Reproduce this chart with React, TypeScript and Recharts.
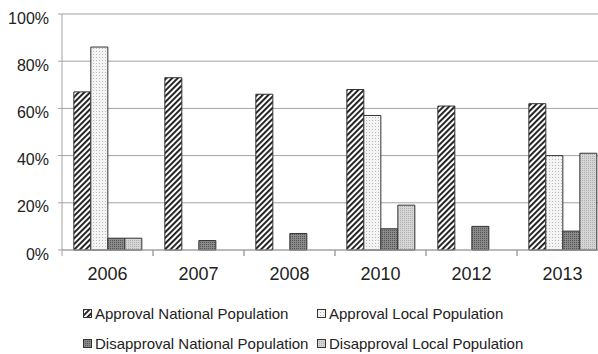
import React from "react";
import { BarChart, Bar, XAxis, YAxis, CartesianGrid, Legend } from "recharts";

const years = ["2006", "2007", "2008", "2010", "2012", "2013"];
const approvalNational = [67, 73, 66, 68, 61, 62];
const approvalLocal: (number | null)[] = [86, null, null, 57, null, 40];
const disapprovalNational = [5, 4, 7, 9, 10, 8];
const disapprovalLocal: (number | null)[] = [5, null, null, 19, null, 41];
const yTicks = [0, 20, 40, 60, 80, 100];

const series = [
  { key: "approvalNational", name: "Approval National Population", fill: "url(#patANP)" },
  { key: "approvalLocal", name: "Approval Local Population", fill: "url(#patALP)" },
  { key: "disapprovalNational", name: "Disapproval National Population", fill: "url(#patDNP)" },
  { key: "disapprovalLocal", name: "Disapproval Local Population", fill: "url(#patDLP)" },
];

const data = years.map((y, i) => ({
  year: y,
  approvalNational: approvalNational[i],
  approvalLocal: approvalLocal[i],
  disapprovalNational: disapprovalNational[i],
  disapprovalLocal: disapprovalLocal[i],
}));

const FONT = "'Liberation Sans', Arial, sans-serif";
const GRID = "#a3a3a3";

const XTick = (props: any) => {
  const { x, y, payload } = props;
  const off = payload && payload.offset ? payload.offset : 0;
  return (
    <g>
      <line x1={x - off} x2={x - off} y1={y} y2={y + 6} stroke={GRID} strokeWidth={1} />
      <line x1={x + off} x2={x + off} y1={y} y2={y + 6} stroke={GRID} strokeWidth={1} />
      <text x={x} y={y + 29.5} textAnchor="middle" fontSize={18} fill="#222" fontFamily={FONT}>
        {payload.value}
      </text>
    </g>
  );
};

const YTick = (props: any) => {
  const { x, y, payload } = props;
  return (
    <text x={x} y={y + 9.5} textAnchor="end" fontSize={16} fill="#222" fontFamily={FONT}>
      {payload.value + "%"}
    </text>
  );
};

const LegendContent = () => (
  <div style={{ position: "relative", width: 598, height: 54, fontFamily: FONT, fontSize: 15, color: "#222" }}>
    {series.map((s, i) => {
      const col = i % 2;
      const row = Math.floor(i / 2);
      return (
        <div
          key={s.key}
          style={{
            position: "absolute",
            left: col === 0 ? 83 : 317,
            top: row * 30,
            display: "flex",
            alignItems: "center",
            whiteSpace: "nowrap",
            height: 18,
          }}
        >
          <svg width={9} height={9} style={{ marginRight: 3 }}>
            <rect x={0.5} y={0.5} width={8} height={8} fill={s.fill} stroke="#333" strokeWidth={1} />
          </svg>
          <span>{s.name}</span>
        </div>
      );
    })}
  </div>
);

export default function App() {
  return (
    <div style={{ position: "absolute", left: 0, top: 0, width: 598, height: 354, overflow: "hidden", background: "#fff" }}>
      <BarChart
        width={610}
        height={354}
        data={data}
        margin={{ top: 14, right: 2, left: 0, bottom: 20 }}
        barCategoryGap="13%"
        barGap={0}
      >
        <defs>
          <pattern id="patANP" width={4} height={4} patternUnits="userSpaceOnUse" patternTransform="rotate(45)">
            <rect width={4} height={4} fill="#ffffff" />
            <rect width={1.9} height={4} fill="#1a1a1a" />
          </pattern>
          <pattern id="patALP" width={3} height={3} patternUnits="userSpaceOnUse">
            <rect width={3} height={3} fill="#f4f4f4" />
            <rect width={1} height={1} fill="#b8b8b8" />
          </pattern>
          <pattern id="patDNP" width={2} height={2} patternUnits="userSpaceOnUse">
            <rect width={2} height={2} fill="#8a8a8a" />
            <rect width={1} height={1} fill="#555" />
          </pattern>
          <pattern id="patDLP" width={2} height={2} patternUnits="userSpaceOnUse">
            <rect width={2} height={2} fill="#d6d6d6" />
            <rect width={1} height={1} fill="#b0b0b0" />
          </pattern>
        </defs>
        <CartesianGrid vertical={false} stroke={GRID} strokeWidth={1} />
        <XAxis
          dataKey="year"
          axisLine={{ stroke: GRID }}
          tickLine={false}
          tickSize={0}
          tickMargin={0}
          interval={0}
          height={30}
          tick={<XTick />}
        />
        <YAxis
          domain={[0, 100]}
          ticks={yTicks}
          width={62}
          axisLine={{ stroke: GRID }}
          tickLine={{ stroke: GRID }}
          tickSize={4}
          tickMargin={9}
          tick={<YTick />}
        />
        <Legend
          content={<LegendContent />}
          wrapperStyle={{ position: "absolute", left: 0, top: 304, width: 598 }}
        />
        {series.map((s) => (
          <Bar
            key={s.key}
            dataKey={s.key}
            name={s.name}
            fill={s.fill}
            stroke="#333"
            strokeWidth={1}
            isAnimationActive={false}
          />
        ))}
      </BarChart>
    </div>
  );
}
